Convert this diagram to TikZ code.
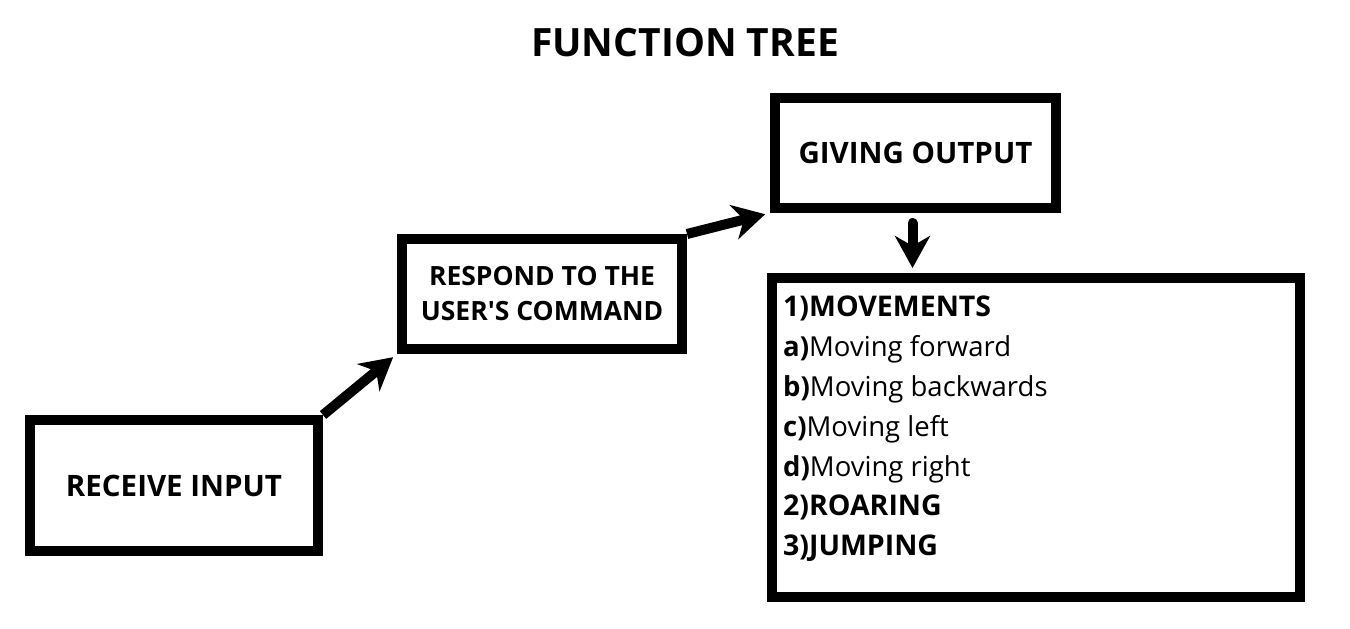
\documentclass[tikz,border=0pt]{standalone}
\usepackage{fontspec}
\setmainfont{Open Sans}[Ligatures=TeXOff]
\usetikzlibrary{arrows.meta}
\begin{document}
\begin{tikzpicture}[x=1pt,y=-1pt,
  box/.style={draw, line width=10pt, rectangle, inner sep=0pt, align=center},
  arr/.style={line width=10pt, -{Stealth[length=32pt,width=35pt,inset=10pt]}},
  headfont/.style={font=\fontsize{29.5}{34}\selectfont\bfseries}]
\useasboundingbox[fill=white] (0,0) rectangle (1350,629);
\node[font=\fontsize{39}{44}\selectfont\bfseries] (title) at (685,43) {FUNCTION TREE};
\node[box, headfont, minimum width=288pt, minimum height=131pt] (receive) at (174,485.5) {RECEIVE INPUT};
\node[box, font=\fontsize{26.5}{35}\selectfont\bfseries, minimum width=280pt, minimum height=110pt] (respond) at (542,294) {RESPOND TO THE\\USER'S COMMAND};
\node[box, headfont, minimum width=281pt, minimum height=110pt] (giving) at (915.5,153) {GIVING OUTPUT};
\node[box, minimum width=528pt, minimum height=319pt] (list) at (1036,437.5) {};
\node[anchor=north west, inner sep=0pt, align=left, font=\fontsize{27.5}{39.8}\selectfont] (items) at (783,296)
  {{\fontsize{28.5}{39.8}\selectfont\bfseries 1)MOVEMENTS}\\
   \textbf{a)}Moving forward\\
   \textbf{b)}Moving backwards\\
   \textbf{c)}Moving left\\
   \textbf{d)}Moving right\\
   {\fontsize{28.5}{39.8}\selectfont\bfseries 2)ROARING}\\
   {\fontsize{28.5}{39.8}\selectfont\bfseries 3)JUMPING}};
\draw[arr, shorten >=5pt] (receive.north east) -- (respond.south west);
\draw[arr, shorten >=5pt] (respond.north east) -- (giving.south west);
\draw[arr, line cap=round, shorten >=5pt] ([xshift=-3pt,yshift=-10pt]giving.south) -- ([xshift=-3pt]giving.south |- list.north);
\end{tikzpicture}
\end{document}
